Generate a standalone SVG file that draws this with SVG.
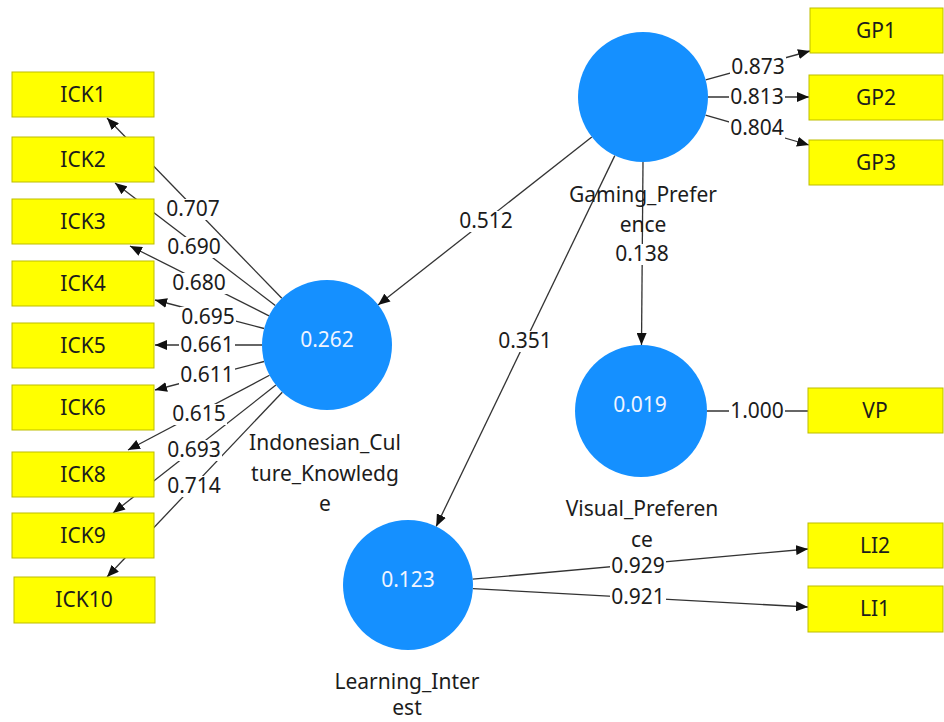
<svg xmlns="http://www.w3.org/2000/svg" width="944" height="722" viewBox="0 0 944 722">
<defs>
<marker id="ah" viewBox="0 0 12 10" refX="12" refY="5" markerWidth="12" markerHeight="10" markerUnits="userSpaceOnUse" orient="auto">
<path d="M0,0 L12,5 L0,10 z" fill="#111"/>
</marker>
<style>
text{font-family:"Noto Sans","Open Sans","Liberation Sans",sans-serif;font-size:21px;fill:#1c1c1c;text-anchor:middle}
.ln{stroke:#333;stroke-width:1.3;fill:none}
.ar{marker-end:url(#ah)}
.box{fill:#FFFF00;stroke:#BDBD00;stroke-width:1}
.lv{fill:#1590FF}
.val{fill:#F0F4FF}
.bg{fill:#fff}
</style>
</defs>
<rect width="944" height="722" fill="#fff"/>
<g id="connectors">
<path class="ln ar" d="M281.8,298.3 L107,118"/>
<path class="ln ar" d="M275.3,305.5 L115,183"/>
<path class="ln ar" d="M269,315.8 L130,246"/>
<path class="ln ar" d="M264.1,328.5 L155,300"/>
<path class="ln ar" d="M262,345 L155,345"/>
<path class="ln ar" d="M264.1,361.5 L155,390"/>
<path class="ln ar" d="M269.5,375.3 L128,450"/>
<path class="ln ar" d="M275.9,385.1 L113,513"/>
<path class="ln ar" d="M282.3,392.2 L107,577"/>
<path class="ln ar" d="M705.7,79.8 L810,51"/>
<path class="ln ar" d="M708,97 L809,97"/>
<path class="ln ar" d="M705.5,115.1 L809,145"/>
<path class="ln ar" d="M591.8,137 L378,305"/>
<path class="ln ar" d="M614.8,155.6 L436.2,526.4"/>
<path class="ln ar" d="M643,162 L641.5,345"/>
<path class="ln" d="M707,411 L808,411"/>
<path class="ln ar" d="M472.7,579.2 L808,549"/>
<path class="ln ar" d="M472.9,588.6 L808,607"/>
<g id="edge-labels">
<rect class="bg" x="165" y="199" width="56" height="21"/><text x="193" y="216">0.707</text>
<rect class="bg" x="166" y="237" width="56" height="21"/><text x="194" y="254">0.690</text>
<rect class="bg" x="171" y="273" width="56" height="21"/><text x="199" y="290">0.680</text>
<rect class="bg" x="180" y="307" width="56" height="21"/><text x="208" y="324">0.695</text>
<rect class="bg" x="179" y="335" width="56" height="21"/><text x="207" y="352">0.661</text>
<rect class="bg" x="179" y="365" width="56" height="21"/><text x="207" y="382">0.611</text>
<rect class="bg" x="171" y="404" width="56" height="21"/><text x="199" y="421">0.615</text>
<rect class="bg" x="166" y="440" width="56" height="21"/><text x="194" y="457">0.693</text>
<rect class="bg" x="166" y="476" width="56" height="21"/><text x="194" y="493">0.714</text>
<rect class="bg" x="730" y="57" width="56" height="21"/><text x="758" y="74">0.873</text>
<rect class="bg" x="729" y="87" width="56" height="21"/><text x="757" y="104">0.813</text>
<rect class="bg" x="729" y="118" width="56" height="21"/><text x="757" y="135">0.804</text>
<rect class="bg" x="458" y="211" width="56" height="21"/><text x="486" y="228">0.512</text>
<rect class="bg" x="497" y="331" width="56" height="21"/><text x="525" y="348">0.351</text>
<rect class="bg" x="614" y="244" width="56" height="21"/><text x="642" y="261">0.138</text>
<rect class="bg" x="729" y="401" width="56" height="21"/><text x="757" y="418">1.000</text>
<rect class="bg" x="610" y="556" width="56" height="21"/><text x="638" y="573">0.929</text>
<rect class="bg" x="610" y="587" width="56" height="21"/><text x="638" y="604">0.921</text>
</g>
</g>
<g id="ICK1"><rect class="box" x="12" y="72" width="142" height="45"/><text x="83" y="102">ICK1</text></g>
<g id="ICK2"><rect class="box" x="12" y="137" width="142" height="45"/><text x="83" y="167">ICK2</text></g>
<g id="ICK3"><rect class="box" x="12" y="199" width="142" height="45"/><text x="83" y="229">ICK3</text></g>
<g id="ICK4"><rect class="box" x="12" y="261" width="142" height="45"/><text x="83" y="291">ICK4</text></g>
<g id="ICK5"><rect class="box" x="12" y="323" width="142" height="45"/><text x="83" y="353">ICK5</text></g>
<g id="ICK6"><rect class="box" x="12" y="385" width="142" height="45"/><text x="83" y="415">ICK6</text></g>
<g id="ICK8"><rect class="box" x="12" y="452" width="142" height="45"/><text x="83" y="482">ICK8</text></g>
<g id="ICK9"><rect class="box" x="12" y="513" width="142" height="45"/><text x="83" y="543">ICK9</text></g>
<g id="ICK10"><rect class="box" x="14" y="577" width="141" height="46"/><text x="84" y="607">ICK10</text></g>
<g id="GP1"><rect class="box" x="810" y="8" width="133" height="45"/><text x="876" y="38">GP1</text></g>
<g id="GP2"><rect class="box" x="809" y="75" width="134" height="45"/><text x="876" y="105">GP2</text></g>
<g id="GP3"><rect class="box" x="809" y="140" width="134" height="45"/><text x="876" y="170">GP3</text></g>
<g id="VP"><rect class="box" x="808" y="388" width="135" height="45"/><text x="875" y="418">VP</text></g>
<g id="LI2"><rect class="box" x="808" y="523" width="135" height="45"/><text x="875" y="553">LI2</text></g>
<g id="LI1"><rect class="box" x="808" y="586" width="135" height="46"/><text x="875" y="616">LI1</text></g>
<g id="Indonesian_Culture_Knowledge">
<circle class="lv" cx="327" cy="345" r="65"/>
<text class="val" x="327" y="347">0.262</text>
<text x="325" y="450">Indonesian_Cul</text>
<text x="325" y="481">ture_Knowledg</text>
<text x="325" y="511">e</text>
</g>
<g id="Gaming_Preference">
<circle class="lv" cx="643" cy="97" r="65"/>
<text x="643" y="202">Gaming_Prefer</text>
<text x="643" y="232">ence</text>
</g>
<g id="Visual_Preference">
<circle class="lv" cx="641" cy="411" r="66"/>
<text class="val" x="640" y="412">0.019</text>
<text x="642" y="516">Visual_Preferen</text>
<text x="642" y="547">ce</text>
</g>
<g id="Learning_Interest">
<circle class="lv" cx="408" cy="585" r="65"/>
<text class="val" x="408" y="587">0.123</text>
<text x="407" y="689">Learning_Inter</text>
<text x="407" y="715">est</text>
</g>
</svg>
